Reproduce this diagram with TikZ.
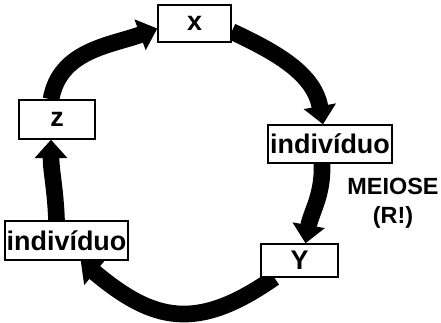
\documentclass[tikz,border=0pt]{standalone}
\usepackage{fontspec}
\setsansfont{Liberation Sans}
\usetikzlibrary{calc, positioning, arrows.meta, backgrounds}

\begin{document}
\begin{tikzpicture}[
    x=0.03cm, y=-0.03cm,
    stage/.style={draw=black, fill=white, line width=1.2pt, inner sep=0pt,
      font=\sffamily\bfseries\fontsize{23}{25}\selectfont},
    cycle/.style={-{Triangle[width=0.95cm, length=0.55cm]}, line width=0.5cm, black},
    note/.style={font=\sffamily\bfseries\fontsize{20}{25}\selectfont, align=center},
  ]
    \useasboundingbox (0,0) rectangle (441,322);

    \node[stage, minimum width=2.19cm, minimum height=1.11cm] (x) at (194.5, 23.5) {x};
    \node[stage, minimum width=3.72cm, minimum height=1.14cm] (ind1) at (330, 144) {indivíduo};
    \node[stage, minimum width=2.31cm, minimum height=0.99cm] (y) at (299.5, 260.5) {Y};
    \node[stage, minimum width=3.69cm, minimum height=1.17cm] (ind2) at (66.5, 240.5) {indivíduo};
    \node[stage, minimum width=2.28cm, minimum height=1.17cm] (z) at (57, 119.5) {z};

    \node[note] (meiose) at (393, 203) {MEIOSE\\(R!)};

    \begin{scope}[on background layer]
      \draw[cycle] ($(x.east)+(0,8)$) to[out=-25, in=100] ($(ind1.north)+(-7,0)$);
      \draw[cycle] ($(ind1.south)+(-8,0)$) to[out=-88, in=80] ($(y.north)+(6,0)$);
      \draw[cycle] ($(y.south west)+(14,0)$) to[out=-145, in=-40, looseness=1.25] ($(ind2.south east)+(-48,0)$);
      \draw[cycle] ($(ind2.north)+(-10,0)$) to[out=92, in=-90] ($(z.south)+(-6,0)$);
      \draw[cycle] ($(z.north)+(-6,0)$) to[out=80, in=200] ($(x.west)+(0,5)$);
    \end{scope}
\end{tikzpicture}
\end{document}
